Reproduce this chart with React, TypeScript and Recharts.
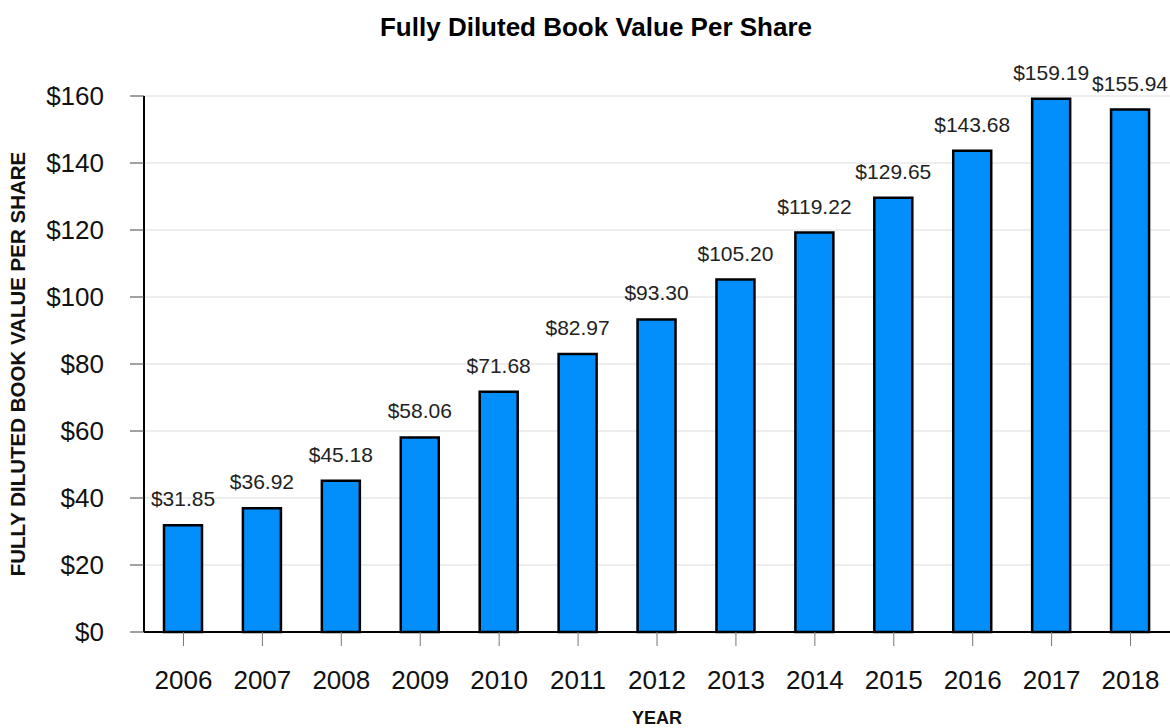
import React from "react";
import {
  BarChart,
  Bar,
  XAxis,
  YAxis,
  CartesianGrid,
  LabelList,
} from "recharts";

const years = ["2006", "2007", "2008", "2009", "2010", "2011", "2012", "2013", "2014", "2015", "2016", "2017", "2018"];
const bookValues = [31.85, 36.92, 45.18, 58.06, 71.68, 82.97, 93.3, 105.2, 119.22, 129.65, 143.68, 159.19, 155.94];
const yTicks = [0, 20, 40, 60, 80, 100, 120, 140, 160];

const data = years.map((year, i) => ({ year, value: bookValues[i] }));

const FONT = "'Liberation Sans', Arial, Helvetica, sans-serif";

export default function App() {
  return (
    <div style={{ position: "absolute", left: 0, top: 0, width: 1170, height: 728, fontFamily: FONT, background: "#fff" }}>
      <div
        style={{
          position: "absolute",
          left: 596,
          top: 12,
          transform: "translateX(-50%)",
          whiteSpace: "nowrap",
          fontSize: 26,
          fontWeight: "bold",
          color: "#000",
        }}
      >
        Fully Diluted Book Value Per Share
      </div>
      <BarChart
        width={1170}
        height={728}
        data={data}
        margin={{ top: 96, right: 0, bottom: 0, left: 0 }}
        barCategoryGap={0}
      >
        <CartesianGrid vertical={false} stroke="#dcdcdc" />
        <XAxis
          dataKey="year"
          height={96}
          tickSize={14}
          tickMargin={25}
          axisLine={{ stroke: "#000", strokeWidth: 2 }}
          tickLine={{ stroke: "#777" }}
          tick={{ fontSize: 26, fill: "#111", fontFamily: FONT }}
          interval={0}
          label={{
            value: "YEAR",
            position: "insideBottom",
            offset: 4,
            style: { fontSize: 18, fontWeight: "bold", fill: "#111", fontFamily: FONT },
          }}
        />
        <YAxis
          width={144}
          domain={[0, 160]}
          ticks={yTicks}
          tickSize={14}
          tickMargin={26}
          tickFormatter={(v: number) => `$${v}`}
          axisLine={{ stroke: "#000", strokeWidth: 2 }}
          tickLine={{ stroke: "#444" }}
          tick={{ fontSize: 26, fill: "#111", fontFamily: FONT }}
          label={{
            value: "FULLY DILUTED BOOK VALUE PER SHARE",
            angle: -90,
            position: "insideLeft",
            offset: 18,
            style: { fontSize: 20.5, fontWeight: "bold", fill: "#111", textAnchor: "middle", fontFamily: FONT },
          }}
        />
        <Bar
          dataKey="value"
          fill="#028ffc"
          stroke="#000"
          strokeWidth={2.5}
          barSize={38}
          isAnimationActive={false}
        >
          <LabelList
            dataKey="value"
            position="top"
            offset={19}
            formatter={(v: number) => `$${v.toFixed(2)}`}
            style={{ fontSize: 21, fill: "#222", fontFamily: FONT }}
          />
        </Bar>
      </BarChart>
    </div>
  );
}
